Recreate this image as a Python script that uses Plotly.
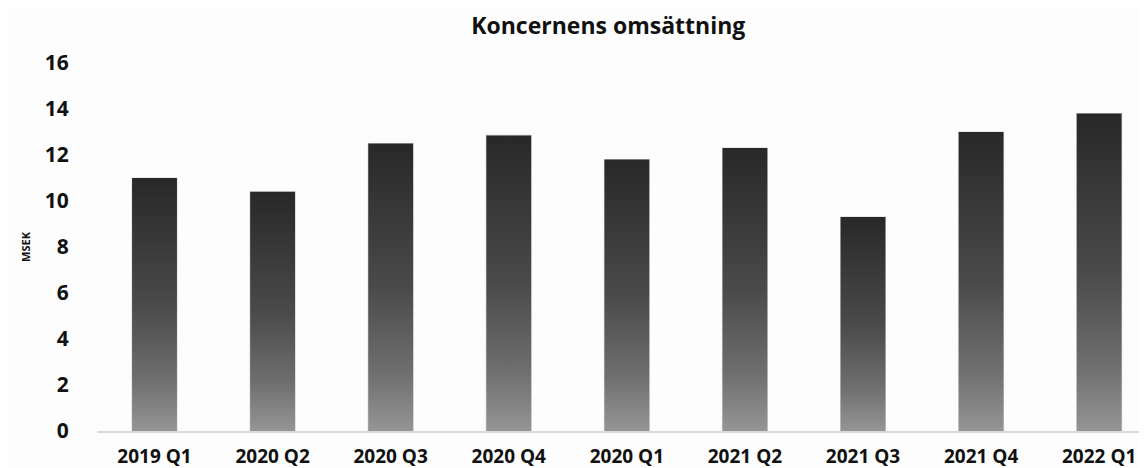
import plotly.graph_objects as go

categories = ["2019 Q1", "2020 Q2", "2020 Q3", "2020 Q4", "2020 Q1",
              "2021 Q2", "2021 Q3", "2021 Q4", "2022 Q1"]
values = [11.0, 10.4, 12.5, 12.85, 11.8, 12.3, 9.3, 13.0, 13.8]
y_ticks = [0, 2, 4, 6, 8, 10, 12, 14, 16]

BAR_W = 0.38
FONT = "Open Sans"

fig = go.Figure()

gradient = [[0.0, "#959595"], [0.2, "#6f6f6f"], [0.5, "#4a4a4a"], [1.0, "#282828"]]

for i, v in enumerate(values):
    x0, x1 = i - BAR_W / 2, i + BAR_W / 2
    fig.add_trace(go.Scatter(
        x=[x0, x0, x1, x1, x0], y=[0, v, v, 0, 0],
        mode="lines", line=dict(width=0), fill="toself",
        fillgradient=dict(type="vertical", colorscale=gradient),
        hoverinfo="skip", showlegend=False,
    ))

fig.add_trace(go.Bar(
    x=list(range(len(categories))), y=values, width=BAR_W,
    marker=dict(color="rgba(0,0,0,0)", line=dict(color="#d4d4d4", width=1.2)),
    showlegend=False, hovertext=categories,
))

# page body has an 8px default margin, so the figure is sized to fill the rest
fig.update_layout(
    width=1139, height=460,
    margin=dict(l=89, r=0, t=55, b=37),
    paper_bgcolor="#fdfdfd", plot_bgcolor="#fdfdfd",
    font=dict(family=FONT, color="#111111"),
    title=dict(text="<b>Koncernens omsättning</b>", x=0.527, xanchor="center",
               y=0.96, yanchor="middle", font=dict(size=23, family=FONT, color="#111111")),
)
fig.update_xaxes(
    range=[-0.487, 8.405],
    tickvals=list(range(len(categories))),
    ticktext=[f"<b>{c}</b>" for c in categories],
    tickfont=dict(size=19, family=FONT, color="#111111"),
    showgrid=False, zeroline=False, automargin=False,
    showline=True, linecolor="#d9d9d9", linewidth=1.5,
    ticks="outside", ticklen=7, tickcolor="rgba(0,0,0,0)",
)
fig.update_yaxes(
    range=[0, 16], tickvals=y_ticks,
    ticktext=[f"<b>{t}</b>" for t in y_ticks],
    tickfont=dict(size=21, family=FONT, color="#111111"),
    showgrid=False, zeroline=False, showline=False, automargin=False,
    ticks="outside", ticklen=23, tickcolor="rgba(0,0,0,0)",
    title=dict(text="<b>MSEK</b>", font=dict(size=11, family=FONT, color="#111111"), standoff=11),
)

fig.write_html("out.html")
